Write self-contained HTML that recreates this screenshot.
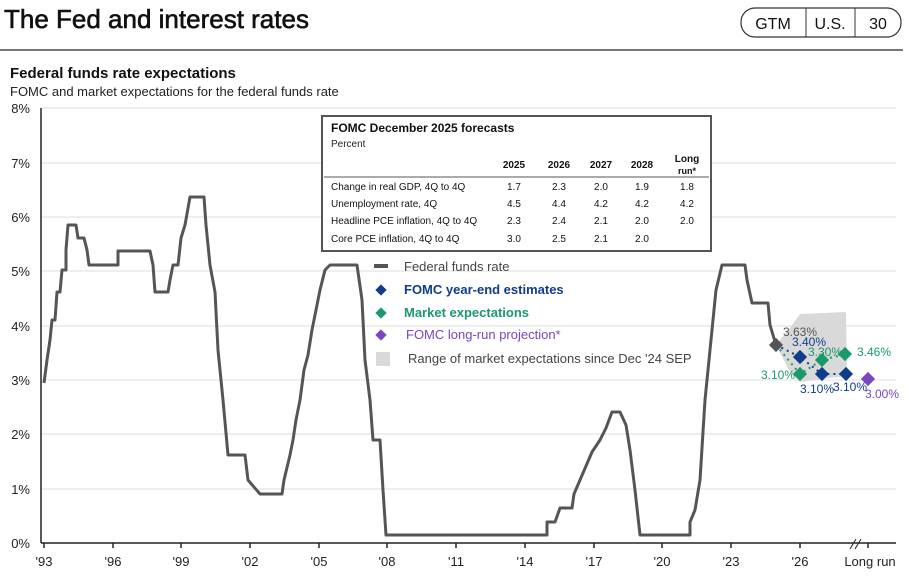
<!DOCTYPE html>
<html><head><meta charset="utf-8"><style>
body{margin:0;background:#fff;width:908px;height:580px;overflow:hidden;font-family:"Liberation Sans",Arial,sans-serif}
svg{position:absolute;left:0;top:0}
</style></head><body>
<svg width="908" height="580" viewBox="0 0 908 580" font-family="Liberation Sans, Arial, sans-serif">
<text x="4" y="28" font-size="26" fill="#111" stroke="#111" stroke-width="0.6">The Fed and interest rates</text>
<line x1="0" y1="50" x2="903" y2="50" stroke="#777" stroke-width="2"/>
<rect x="741" y="8" width="160" height="29" rx="14" fill="#fff" stroke="#333" stroke-width="1.2"/>
<line x1="806" y1="8" x2="806" y2="37" stroke="#333"/>
<line x1="855" y1="8" x2="855" y2="37" stroke="#333"/>
<text x="773" y="29" font-size="16" text-anchor="middle" fill="#111">GTM</text>
<text x="830" y="29" font-size="16" text-anchor="middle" fill="#111">U.S.</text>
<text x="878" y="29" font-size="16" text-anchor="middle" fill="#111">30</text>
<text x="10" y="78" font-size="15" font-weight="bold" fill="#111">Federal funds rate expectations</text>
<text x="10" y="96" font-size="13" fill="#222">FOMC and market expectations for the federal funds rate</text>
<g stroke="#ddd" stroke-width="1">
<line x1="41" y1="108" x2="896" y2="108"/><line x1="41" y1="163" x2="896" y2="163"/><line x1="41" y1="217" x2="896" y2="217"/><line x1="41" y1="271" x2="896" y2="271"/><line x1="41" y1="326" x2="896" y2="326"/><line x1="41" y1="380" x2="896" y2="380"/><line x1="41" y1="434" x2="896" y2="434"/><line x1="41" y1="489" x2="896" y2="489"/>
</g>
<g font-size="13" fill="#222" text-anchor="end">
<text x="30" y="113">8%</text><text x="30" y="168">7%</text><text x="30" y="222">6%</text><text x="30" y="276">5%</text><text x="30" y="331">4%</text><text x="30" y="385">3%</text><text x="30" y="439">2%</text><text x="30" y="494">1%</text><text x="30" y="548">0%</text>
</g>
<line x1="41" y1="108" x2="41" y2="543" stroke="#222" stroke-width="1.5"/>
<line x1="41" y1="543" x2="896" y2="543" stroke="#222" stroke-width="1.5"/>
<g stroke="#222" stroke-width="1.5">
<line x1="44" y1="543" x2="44" y2="548"/><line x1="113" y1="543" x2="113" y2="548"/><line x1="181" y1="543" x2="181" y2="548"/><line x1="250" y1="543" x2="250" y2="548"/><line x1="319" y1="543" x2="319" y2="548"/><line x1="387" y1="543" x2="387" y2="548"/><line x1="456" y1="543" x2="456" y2="548"/><line x1="525" y1="543" x2="525" y2="548"/><line x1="594" y1="543" x2="594" y2="548"/><line x1="662" y1="543" x2="662" y2="548"/><line x1="731" y1="543" x2="731" y2="548"/><line x1="800" y1="543" x2="800" y2="548"/><line x1="868" y1="543" x2="868" y2="548"/>
</g>
<line x1="850" y1="549" x2="856" y2="539" stroke="#222"/><line x1="855" y1="549" x2="861" y2="539" stroke="#222"/>
<g font-size="13" fill="#222" text-anchor="middle">
<text x="44" y="566">'93</text><text x="113" y="566">'96</text><text x="181" y="566">'99</text><text x="250" y="566">'02</text><text x="319" y="566">'05</text><text x="387" y="566">'08</text><text x="456" y="566">'11</text><text x="525" y="566">'14</text><text x="594" y="566">'17</text><text x="662" y="566">'20</text><text x="731" y="566">'23</text><text x="800" y="566">'26</text><text x="870" y="566">Long run</text>
</g>
<polygon points="776,345 790,328 800,314 846,312 847,376 830,378 800,382 790,372" fill="#d9d9d9"/>
<polyline fill="none" stroke="#555" stroke-width="3" stroke-linejoin="round" points="44,383 47,360 50,340 52,320 55,320 57,292 60,292 62,270 66,270 66,250 68,225 76,225 78,238 84,238 87,250 89,265 118,265 118,251 150,251 153,265 155,292 168,292 170,280 173,265 178,265 181,238 185,225 190,197 204,197 206,225 210,265 215,292 218,350 223,400 228,455 245,455 248,480 260,494 282,494 284,480 290,455 293,440 296,420 300,400 304,370 308,355 312,330 316,310 320,290 325,270 330,265 357,265 362,300 365,360 370,400 373,440 380,440 383,490 386,535 547,535 547,522 555,522 560,508 572,508 574,494 580,480 586,466 592,452 600,440 606,428 612,412 620,412 626,425 630,450 635,490 640,535 690,535 690,522 695,510 700,480 705,400 710,350 716,290 722,265 745,265 747,280 752,303 768,303 770,325 776,345"/>
<polyline fill="none" stroke="#0f3d8a" stroke-width="2" stroke-dasharray="2,4" points="776,345 800,357 822,374 846,374"/>
<polyline fill="none" stroke="#1a9a6a" stroke-width="2" stroke-dasharray="2,4" points="776,345 800,374 822,360 845,354"/>
<g>
<rect x="771" y="340" width="10" height="10" fill="#555" transform="rotate(45 776 345)"/>
<rect x="795" y="352" width="10" height="10" fill="#0f3d8a" transform="rotate(45 800 357)"/>
<rect x="817" y="369" width="10" height="10" fill="#0f3d8a" transform="rotate(45 822 374)"/>
<rect x="841" y="369" width="10" height="10" fill="#0f3d8a" transform="rotate(45 846 374)"/>
<rect x="795" y="369" width="10" height="10" fill="#1a9a6a" transform="rotate(45 800 374)"/>
<rect x="817" y="355" width="10" height="10" fill="#1a9a6a" transform="rotate(45 822 360)"/>
<rect x="840" y="349" width="10" height="10" fill="#1a9a6a" transform="rotate(45 845 354)"/>
<rect x="863" y="374" width="10" height="10" fill="#7a45c0" transform="rotate(45 868 379)"/>
</g>
<g font-size="12">
<text x="783" y="336" fill="#555">3.63%</text>
<text x="792" y="346" fill="#0f3d8a">3.40%</text>
<text x="808" y="356" fill="#1a9a6a">3.30%</text>
<text x="857" y="356" fill="#1a9a6a">3.46%</text>
<text x="761" y="379" fill="#1a9a6a">3.10%</text>
<text x="800" y="393" fill="#0f3d8a">3.10%</text>
<text x="833" y="391" fill="#0f3d8a">3.10%</text>
<text x="865" y="398" fill="#7a45c0">3.00%</text>
</g>
<rect x="374" y="264" width="14" height="4" fill="#555"/>
<text x="404" y="271" font-size="13" fill="#444">Federal funds rate</text>
<rect x="377" y="286" width="8" height="8" fill="#0f3d8a" transform="rotate(45 381 290)"/>
<text x="404" y="294" font-size="13" font-weight="bold" fill="#0f3d8a">FOMC year-end estimates</text>
<rect x="377" y="309" width="8" height="8" fill="#1a9a6a" transform="rotate(45 381 313)"/>
<text x="404" y="317" font-size="13" font-weight="bold" fill="#1a9a6a">Market expectations</text>
<rect x="377" y="331" width="8" height="8" fill="#7a45c0" transform="rotate(45 381 335)"/>
<text x="406" y="339" font-size="13" fill="#7a45c0">FOMC long-run projection*</text>
<rect x="376" y="352" width="14" height="14" fill="#d9d9d9"/>
<text x="408" y="363" font-size="13" fill="#444">Range of market expectations since Dec '24 SEP</text>
<rect x="322" y="116" width="389" height="135" fill="#fff" stroke="#555" stroke-width="2"/>
<text x="331" y="132" font-size="12" font-weight="bold" fill="#111">FOMC December 2025 forecasts</text>
<text x="331" y="147" font-size="10" fill="#222">Percent</text>
<g font-size="10" font-weight="bold" fill="#111" text-anchor="middle">
<text x="514" y="168">2025</text><text x="559" y="168">2026</text><text x="601" y="168">2027</text><text x="642" y="168">2028</text><text x="687" y="162">Long</text><text x="687" y="174" font-size="9">run*</text>
</g>
<line x1="324" y1="177" x2="709" y2="177" stroke="#555"/>
<g font-size="10" fill="#111">
<text x="331" y="190">Change in real GDP, 4Q to 4Q</text>
<text x="331" y="207">Unemployment rate, 4Q</text>
<text x="331" y="224">Headline PCE inflation, 4Q to 4Q</text>
<text x="331" y="242">Core PCE inflation, 4Q to 4Q</text>
</g>
<g font-size="10" fill="#111" text-anchor="middle">
<text x="514" y="190">1.7</text><text x="559" y="190">2.3</text><text x="601" y="190">2.0</text><text x="642" y="190">1.9</text><text x="687" y="190">1.8</text>
<text x="514" y="207">4.5</text><text x="559" y="207">4.4</text><text x="601" y="207">4.2</text><text x="642" y="207">4.2</text><text x="687" y="207">4.2</text>
<text x="514" y="224">2.3</text><text x="559" y="224">2.4</text><text x="601" y="224">2.1</text><text x="642" y="224">2.0</text><text x="687" y="224">2.0</text>
<text x="514" y="242">3.0</text><text x="559" y="242">2.5</text><text x="601" y="242">2.1</text><text x="642" y="242">2.0</text>
</g>
</svg>
</body></html>
